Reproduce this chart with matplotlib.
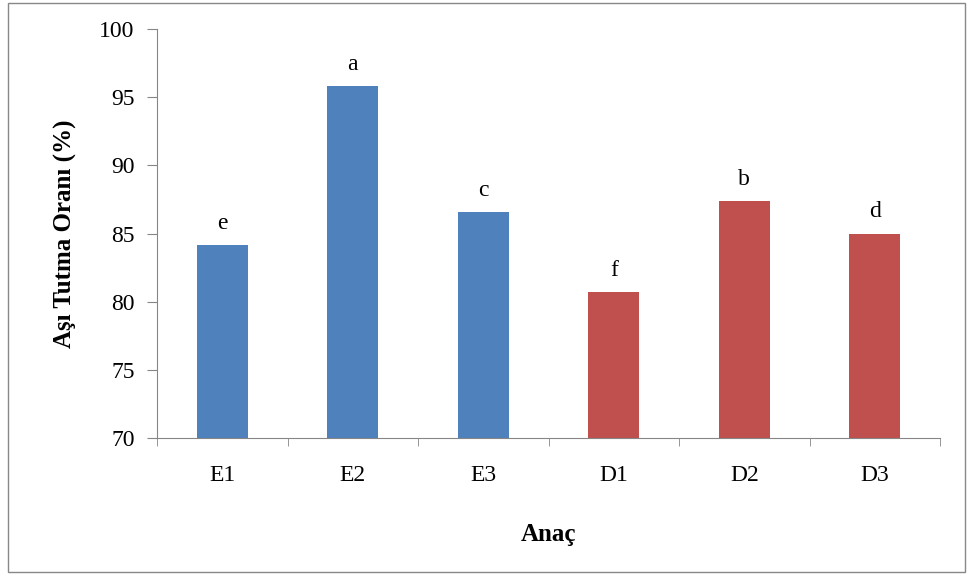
import matplotlib
matplotlib.use("Agg")
import matplotlib.pyplot as plt
from matplotlib.patches import Rectangle

categories = ["E1", "E2", "E3", "D1", "D2", "D3"]
values = [84.15, 95.8, 86.6, 80.7, 87.4, 85.0]
letters = ["e", "a", "c", "f", "b", "d"]
colors = ["#4F81BD"] * 3 + ["#C0504D"] * 3
yticks = [70, 75, 80, 85, 90, 95, 100]

plt.rcParams['font.family'] = ['Liberation Serif', 'DejaVu Serif']

fig = plt.figure(figsize=(9.68, 5.75), dpi=100)
ax = fig.add_axes([0.1622, 0.2388, 0.8089, 0.7102])
fig.patches.append(Rectangle((0.008, 0.005), 0.989, 0.99, transform=fig.transFigure,
                             fill=False, edgecolor="#888888", linewidth=1.0))

x = list(range(len(categories)))
ax.bar(x, values, width=0.39, color=colors, bottom=0)
ax.set_ylim(70, 100)
ax.set_xlim(-0.5, len(categories) - 0.5)
ax.set_yticks(yticks)
ax.set_yticklabels([str(t) for t in yticks], fontsize=17)
ax.set_xticks(x)
ax.set_xticklabels(categories, fontsize=17)
ax.set_xticks([i - 0.5 for i in range(len(categories) + 1)], minor=True)
ax.tick_params(axis='x', which='major', length=0, pad=20)
ax.tick_params(axis='x', which='minor', length=6, color="#868686", direction='out')
ax.tick_params(axis='y', length=7, color="#868686", direction='out', pad=9)

for s in ["top", "right"]:
    ax.spines[s].set_visible(False)
for s in ["left", "bottom"]:
    ax.spines[s].set_color("#868686")

for xi, v, l in zip(x, values, letters):
    ax.annotate(l, (xi, v), xytext=(0, 8), textcoords="offset points",
                ha="center", va="bottom", fontsize=17)

ax.set_ylabel("Aşı Tutma Oranı (%)", fontsize=18, fontweight="bold", labelpad=16)
ax.set_xlabel("Anaç", fontsize=18, fontweight="bold", labelpad=26)

fig.savefig("out.png", dpi=100)
